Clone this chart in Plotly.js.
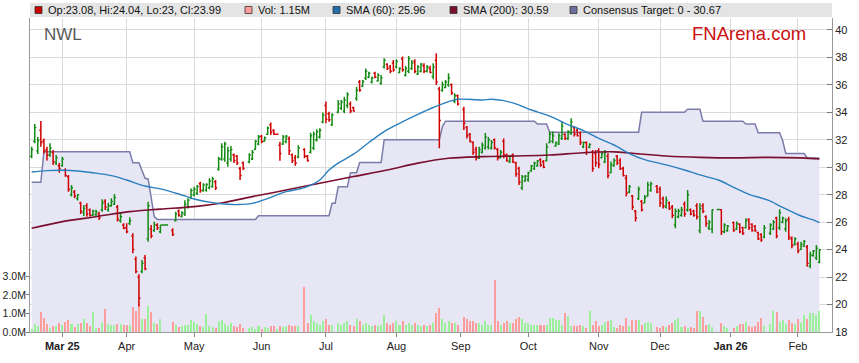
<!DOCTYPE html>
<html><head><meta charset="utf-8">
<script src="https://cdn.plot.ly/plotly-3.0.1.min.js"></script>
<style>html,body{margin:0;padding:0;background:#fff}#chart{width:859px;height:363px}</style>
</head><body><div id="chart"></div>
<script>
// ---- data: one value per weekday slot starting Mon 2025-02-17 ----
const startDate = '2025-02-17';
const openPx = [
30.8,31.9,31.2,32.7,31.9,31.3,30.9,31.1,30.3,30.1,
30.1,29.8,29.3,28.0,28.2,27.7,27.4,26.7,27.2,26.9,
26.5,26.55,26.6,26.9,27.5,26.9,27.2,27.3,27.1,26.1,
25.8,25.6,25.9,25.0,23.3,22.0,22.4,23.4,24.8,25.5,
25.4,25.8,25.3,25.8,25.8,null,25.4,26.1,26.8,26.4,
26.6,27.1,27.8,28.0,28.1,28.8,28.3,28.35,28.5,28.6,
28.95,29.85,30.6,30.6,30.3,30.6,30.9,30.8,29.9,30.3,
null,30.4,30.6,31.3,31.7,32.25,31.9,32.4,33.1,32.7,
32.4,31.6,31.7,31.85,32.1,30.9,30.7,30.75,null,31.3,
30.8,31.1,31.4,32.0,32.2,33.3,34.5,33.9,33.1,null,
34.0,34.3,34.1,34.5,34.6,34.35,35.0,36.2,35.9,36.5,
36.55,36.2,36.85,36.3,36.1,37.3,37.5,37.3,37.6,37.3,
36.9,37.9,36.7,37.0,37.2,37.7,36.8,37.0,37.4,37.0,
37.2,36.6,37.8,35.7,35.6,35.8,36.0,36.0,34.8,35.2,
null,34.2,32.9,32.4,31.8,31.3,30.7,31.1,31.4,31.5,
31.4,32.0,31.3,30.7,31.9,30.9,30.4,30.9,30.3,29.9,
28.5,29.0,29.1,29.75,29.9,30.1,30.55,30.4,30.5,31.8,
31.9,31.55,31.7,32.1,32.4,32.1,32.5,32.9,32.7,32.5,
31.5,31.8,31.45,31.1,31.0,31.2,30.7,30.4,30.8,29.6,
30.1,30.8,30.5,29.9,29.2,28.2,27.9,26.8,27.7,27.5,
27.4,27.9,28.3,null,28.6,28.4,27.7,27.1,27.4,27.1,
25.8,26.4,26.5,27.3,26.9,26.9,26.8,27.2,25.4,27.2,
26.4,25.6,25.5,null,26.93,26.9,25.3,25.4,null,25.95,
25.5,25.85,25.6,25.6,26.2,25.85,25.7,25.25,25.1,24.9,
null,25.2,25.5,26.3,25.6,26.0,25.5,26.2,24.8,24.4,
24.4,24.0,24.25,24.2,22.8,23.55,23.4,23.08];
const highPx = [
31.5,33.15,32.2,33.37,32.1,31.5,31.74,31.26,30.9,30.3,
30.77,29.92,29.44,28.7,28.34,28.05,27.49,27.25,27.37,27.0,
26.9,26.9,26.76,27.66,27.66,27.42,27.74,28.05,27.25,26.64,
25.92,25.92,26.35,25.19,23.5,22.2,23.24,23.6,27.49,25.8,
26.03,25.92,25.8,25.8,25.8,null,25.55,26.76,26.93,26.8,
27.6,27.74,28.46,28.58,28.7,28.95,28.83,28.83,29.2,29.3,
29.07,30.77,31.74,31.86,31.5,31.55,31.0,30.9,30.04,30.41,
null,31.02,31.26,31.99,32.35,32.35,32.23,32.96,33.25,32.76,
32.45,31.86,32.35,32.35,32.23,31.0,30.9,31.6,null,31.38,
30.9,32.52,32.6,32.76,32.84,33.98,34.78,34.05,33.93,null,
34.9,34.9,35.14,35.46,34.78,34.41,35.87,36.36,36.36,37.2,
36.96,36.6,36.96,36.84,36.72,37.93,37.57,37.45,37.81,37.86,
37.28,38.06,37.38,38.1,37.81,37.86,37.45,37.6,37.57,37.45,
37.4,37.57,38.3,35.87,36.24,36.36,36.84,36.1,35.38,35.3,
null,34.41,33.0,32.5,31.9,31.5,31.5,31.8,32.5,32.2,
31.99,32.1,31.4,31.26,32.1,31.0,30.9,31.0,30.4,30.04,
29.44,29.44,29.68,30.17,30.4,30.53,30.65,30.53,31.74,32.6,
32.6,31.87,32.47,33.32,32.47,32.7,33.56,32.96,32.84,32.6,
31.87,31.87,31.74,31.26,31.26,31.38,31.14,31.26,31.02,30.41,
30.65,30.9,30.65,30.04,29.44,28.71,27.98,26.89,28.59,27.62,
27.98,28.95,28.95,null,28.71,28.59,27.86,27.86,27.5,27.25,
27.0,26.98,27.13,27.5,28.34,27.0,26.9,27.37,27.37,27.37,
26.5,26.16,26.93,null,26.93,26.94,25.92,25.8,null,26.04,
26.04,25.92,25.67,26.28,26.28,25.92,25.8,25.31,25.19,25.8,
null,25.92,26.16,26.4,26.94,26.4,26.28,26.4,24.95,24.9,
24.58,24.58,24.7,24.33,23.85,23.97,24.33,24.04];
const lowPx = [
30.65,31.75,30.96,31.5,31.0,30.5,30.77,30.16,30.16,29.6,
30.04,29.31,28.22,27.86,27.74,27.57,26.6,26.45,26.4,26.4,
26.45,26.45,26.16,26.76,26.88,26.76,27.13,27.25,26.04,25.96,
25.48,25.19,25.8,23.73,22.27,19.85,22.27,22.5,24.58,24.82,
25.3,25.43,25.19,25.8,25.8,null,24.99,26.04,26.4,26.35,
26.45,27.0,27.66,27.86,27.98,28.15,28.22,28.22,28.4,28.5,
28.34,29.75,30.48,30.4,30.04,30.4,30.3,30.17,29.07,29.8,
null,30.29,30.53,31.26,31.6,31.75,31.87,32.35,32.35,32.35,
32.35,30.48,31.62,31.74,30.9,30.3,30.1,30.65,null,30.65,
30.4,31.0,31.26,31.87,32.1,33.2,33.2,33.32,33.0,null,
33.93,34.17,33.93,34.29,33.93,34.05,34.85,35.5,35.87,36.36,
36.48,36.1,36.48,36.23,36.0,37.2,37.08,36.84,36.96,37.2,
36.84,36.96,36.6,36.84,37.08,36.84,36.72,36.9,36.84,36.9,
36.84,36.4,35.99,31.38,35.5,35.75,35.87,35.26,34.66,34.5,
null,32.71,32.1,31.8,30.9,30.5,30.6,31.0,31.3,31.3,
31.3,31.3,30.5,30.65,30.65,30.4,30.3,30.3,29.3,28.7,
28.34,28.95,28.95,29.68,29.8,30.04,30.04,29.92,30.41,31.74,
31.74,31.5,31.62,31.99,31.99,31.99,32.35,32.23,32.23,31.62,
31.38,30.9,31.38,29.68,30.04,29.92,30.65,30.29,29.19,29.56,
30.04,30.17,29.8,29.32,27.86,28.1,26.89,26.04,27.62,26.77,
27.37,27.86,28.22,null,28.1,27.13,27.0,27.0,26.89,26.28,
25.55,26.28,26.4,26.4,26.76,26.5,26.4,26.2,25.19,26.64,
25.67,25.43,25.2,null,26.93,25.07,25.19,25.31,null,25.31,
25.43,25.19,25.07,25.55,25.43,25.31,25.31,24.7,24.58,24.82,
null,25.07,25.43,24.82,25.43,25.92,25.31,24.7,24.1,24.3,
23.73,23.97,24.21,22.76,22.64,23.49,23.24,23.0];
const closePx = [
31.3,32.9,31.95,31.8,31.2,30.9,31.4,30.4,30.7,29.9,
30.6,29.4,28.4,28.5,27.9,28.0,26.8,27.0,26.6,26.5,
26.8,26.75,26.3,27.4,27.1,27.2,27.5,27.8,26.2,26.4,
25.55,25.3,26.1,24.0,22.4,20.45,23.0,22.6,27.2,25.0,
25.8,25.6,25.8,25.8,25.8,null,25.1,26.6,26.5,26.7,
27.3,27.6,28.3,28.4,28.6,28.3,28.7,28.75,29.0,29.15,
28.5,30.6,31.5,31.7,31.2,31.3,30.5,30.3,29.4,29.9,
null,30.9,31.1,31.9,32.2,31.85,32.15,32.85,32.55,32.4,
32.4,31.0,32.2,32.25,31.2,30.5,30.3,31.4,null,30.8,
30.5,32.3,32.4,32.6,32.7,33.8,33.5,33.45,33.8,null,
34.6,34.75,34.9,35.3,34.1,34.1,35.6,35.6,36.25,37.0,
36.85,36.5,36.55,36.7,36.5,37.8,37.2,37.0,37.1,37.7,
37.2,37.1,37.2,37.9,37.6,37.0,37.3,37.5,37.0,37.3,
36.9,37.3,36.2,33.4,36.0,36.2,36.5,35.4,35.2,34.6,
null,33.2,32.3,31.9,31.1,30.7,31.3,31.6,32.2,32.0,
31.8,31.4,30.7,31.1,30.9,30.5,30.8,30.4,29.5,28.9,
29.3,29.35,29.6,30.1,30.3,30.45,30.15,30.0,31.5,32.4,
32.3,31.8,32.3,33.0,32.1,32.6,33.3,32.4,32.3,31.8,
31.8,31.1,31.65,29.9,30.3,30.2,31.0,31.1,29.4,30.2,
30.5,30.3,29.9,29.4,28.1,28.6,27.1,26.3,28.4,26.9,
27.8,28.7,28.8,null,28.2,27.4,27.2,27.6,27.0,26.5,
26.8,26.8,26.9,26.6,28.0,26.6,26.5,26.4,27.0,26.8,
25.9,26.0,26.9,null,26.93,25.3,25.8,25.7,null,25.4,
25.9,25.3,25.2,26.1,25.6,25.4,25.4,24.8,24.7,25.6,
null,25.8,26.0,25.0,26.7,26.3,26.1,24.9,24.3,24.8,
23.9,24.4,24.6,23.0,23.6,23.9,24.1,23.99];
// volume in millions of shares
const volumeM = [
0.18,0.42,0.33,1.09,0.76,0.42,0.22,0.31,0.31,0.49,
0.36,0.55,0.64,0.42,0.27,0.42,0.49,0.69,0.49,0.31,
1.09,0.24,0.2,0.49,1.24,0.42,0.36,0.36,0.42,0.42,
0.36,0.36,0.36,1.36,1.15,1.5,0.69,0.69,1.4,1.09,
0.51,0.45,0.69,0,0,null,0.55,0.36,0.27,0.3,
0.36,0.36,0.64,0.55,0.45,0.31,0.27,0.96,0.31,0.27,
0.22,0.58,0.67,0.45,0.33,0.49,0.31,0.27,0.42,0.22,
null,0.24,0.27,0.18,0.31,0.15,0.27,0.22,0.31,0.31,
0.18,0.31,0.27,0.33,0.36,0.31,0.31,0.31,null,2.4,
0.5,0.9,0.6,0.5,0.4,0.6,0.7,0.4,0.4,null,
0.5,0.4,0.5,0.6,0.4,0.3,0.7,0.6,0.4,0.5,
0.4,0.3,0.4,0.3,0.4,0.9,0.5,0.4,0.5,0.6,
0.4,0.6,0.4,0.5,0.4,0.5,0.4,0.3,0.4,0.3,
0.4,0.5,1.0,1.3,0.7,0.5,0.6,0.5,0.5,0.4,
null,0.8,0.7,0.6,0.6,0.5,0.5,0.4,0.6,0.4,
0.4,2.8,0.6,0.4,0.5,0.6,0.5,0.5,0.7,0.8,
0.7,0.5,0.5,0.4,0.4,0.4,0.4,0.36,0.36,0.73,
0.78,0.64,0.67,0.36,1.0,0.85,0.31,0.31,0.31,0.36,
0.31,0.24,1.13,0.36,0.58,0.33,0.36,0.55,0.58,0.64,
0.27,0.24,0.36,0.31,0.78,0.31,0.64,0.64,0.67,0.4,
0.49,0.55,0.49,null,0.27,0.22,0.31,0.27,0.36,0.49,
0.64,0.78,0.27,0.31,0.22,0.27,0.24,1.13,1.13,0.82,
0.36,0.42,0.27,null,0,0.49,0.31,0.24,null,0.2,
0.31,0.42,0.45,0.55,0.31,0.27,0.31,0.55,0.76,0.31,
null,0.45,1.13,1.09,0.55,0.64,0.45,0.64,0.49,0.45,
0.69,0.49,0.91,0.69,1.04,1.04,0.91,1.15];
// moving averages and consensus target, read at selected weekday slots
const sma60Slot = [0,5,10,15,20,26,31,37,42,48,53,59,64,67,72,78,83,89,94,97,100,105,110,115,120,126,131,136,139,147,150,154,158,163,169,174,180,185,190,195,200,207,213,218,224,229,234,240,245,251,255,257];
const sma60Val  = [29.65,29.75,29.78,29.73,29.6,29.39,29.07,28.63,28.42,28.05,27.69,27.42,27.3,27.28,27.37,27.81,28.22,28.51,29.07,29.8,30.3,30.95,31.8,32.6,33.2,33.85,34.35,34.78,34.95,34.9,34.95,34.85,34.61,34.17,33.73,33.2,32.67,32.11,31.62,31.0,30.55,30.17,29.8,29.44,29.07,28.54,28.03,27.62,27.08,26.45,26.16,25.96];
const sma200Slot = [0,10,21,32,42,53,62,72,83,94,105,116,126,136,147,158,169,180,190,196,207,218,229,240,251,257];
const sma200Val  = [25.55,26.04,26.4,26.77,26.95,27.13,27.4,27.86,28.34,28.83,29.32,29.8,30.3,30.65,30.77,30.82,30.89,31.06,31.12,31.02,30.82,30.72,30.68,30.72,30.68,30.6];
const targetSlot = [0,3,4,32,33,35,37,38,40,41,73,74,97,98,99,100,103,104,106,107,114,115,133,134,135,164,165,168,169,198,199,213,214,218,219,232,233,236,237,244,245,246,252,253,257];
const targetVal  = [28.9,28.9,31.13,31.13,30.33,30.33,29.19,29.15,26.4,26.2,26.2,26.47,26.47,27.37,27.37,28.58,28.58,29.6,29.6,30.34,30.34,32.0,32.0,32.96,33.35,33.35,33.15,33.15,32.55,32.55,34.0,34.0,34.22,34.22,33.35,33.35,33.15,33.15,32.52,32.52,31.95,31.0,31.0,30.67,30.67];
const monthNames = ['Jan','Feb','Mar','Apr','May','Jun','Jul','Aug','Sep','Oct','Nov','Dec'];
const legendItems = [
  {label:'Op:23.08, Hi:24.04, Lo:23, Cl:23.99', color:'#cc0000', px:35},
  {label:'Vol: 1.15M', color:'#ff9c9c', px:245},
  {label:'SMA (60): 25.96', color:'#1f6fae', px:333},
  {label:'SMA (200): 30.59', color:'#7a0f2e', px:450},
  {label:'Consensus Target: 0 - 30.67', color:'#6f6f9c', px:570}
];

// ---- build ----
const dates = [];
{
  const d = new Date(startDate + 'T00:00:00Z');
  while (dates.length < closePx.length) {
    const wd = d.getUTCDay();
    if (wd !== 0 && wd !== 6) dates.push(d.toISOString().slice(0, 10));
    d.setUTCDate(d.getUTCDate() + 1);
  }
}
const slots = dates.map((_, i) => i);
const tickvals = [], ticktext = [];
let lastMonth = dates[0].slice(0, 7);
dates.forEach((ds, i) => {
  const m = ds.slice(0, 7);
  if (m !== lastMonth) {
    lastMonth = m;
    const mi = +ds.slice(5, 7) - 1;
    let t = monthNames[mi];
    if (tickvals.length === 0 || mi === 0) t = '<b>' + t + ' ' + ds.slice(2, 4) + '</b>';
    tickvals.push(i); ticktext.push(t);
  }
});
const volColors = closePx.map((c, i) => (c !== null && c >= openPx[i]) ? '#9cf09c' : '#ff9c9c');

// plot area in pixels: x 30..832, y 18..332
const L = 30, R = 832, T = 18, B = 332;
const priceRange = [18, 18 + (B - T) / 13.73];

const traces = [
  {type:'scatter', mode:'lines', x:targetSlot, y:targetVal, fill:'tozeroy', fillcolor:'#e6e6f5',
   line:{color:'#7c7caa', width:1.5}, hoverinfo:'skip', xaxis:'x', yaxis:'y'},
  {type:'bar', x:slots, y:volumeM.map(v => v === null ? null : v * 1e6), width:0.66,
   marker:{color:volColors, line:{width:0}}, hoverinfo:'skip', xaxis:'x', yaxis:'y2'},
  {type:'ohlc', x:slots, open:openPx, high:highPx, low:lowPx, close:closePx, tickwidth:0.5,
   increasing:{line:{color:'#138a13', width:1.5}}, decreasing:{line:{color:'#d00000', width:1.5}},
   hoverinfo:'skip', xaxis:'x', yaxis:'y3'},
  {type:'scatter', mode:'lines', x:sma200Slot, y:sma200Val, line:{color:'#7a0f2e', width:1.6, shape:'spline'},
   hoverinfo:'skip', xaxis:'x', yaxis:'y3'},
  {type:'scatter', mode:'lines', x:sma60Slot, y:sma60Val, line:{color:'#2a7fbf', width:1.4, shape:'spline'},
   hoverinfo:'skip', xaxis:'x', yaxis:'y3'}
];

const px2x = p => (p - L) / (R - L);
const px2y = p => (B - p) / (B - T);
const shapes = [
  {type:'rect', xref:'paper', yref:'paper', x0:0, x1:1, y0:px2y(17), y1:px2y(3),
   fillcolor:'#e4e4e4', line:{width:0}, layer:'above'}
];
const annotations = [];
legendItems.forEach(it => {
  shapes.push({type:'rect', xref:'paper', yref:'paper', x0:px2x(it.px), x1:px2x(it.px + 7),
    y0:px2y(13.5), y1:px2y(6.5), fillcolor:it.color, line:{color:'#333', width:0.8}, layer:'above'});
  annotations.push({xref:'paper', yref:'paper', x:px2x(it.px + 11), y:px2y(10), xanchor:'left', yanchor:'middle',
    text:it.label, showarrow:false, font:{size:11, color:'#111'}});
});
annotations.push({xref:'paper', yref:'paper', x:px2x(42), y:px2y(34), xanchor:'left', yanchor:'middle',
  text:'NWL', showarrow:false, font:{size:17, color:'#5a5a5a'}});
annotations.push({xref:'paper', yref:'paper', x:px2x(808), y:px2y(33), xanchor:'right', yanchor:'middle',
  text:'FNArena.com', showarrow:false, font:{size:18.5, color:'#cc1111'}});

const layout = {
  width:859, height:363,
  margin:{l:L, r:859 - R, t:T, b:363 - B, pad:0},
  paper_bgcolor:'#ffffff', plot_bgcolor:'#ffffff',
  font:{family:'"Liberation Sans", Arial, sans-serif', size:11, color:'#222'},
  showlegend:false, dragmode:false, hovermode:false,
  xaxis:{range:[-0.54, 261.1], tickmode:'array', tickvals:tickvals, ticktext:ticktext,
    ticks:'outside', ticklen:4, tickcolor:'#888', showline:true, linecolor:'#999', linewidth:1,
    showgrid:true, gridcolor:'#dadada', gridwidth:1, zeroline:false, rangeslider:{visible:false},
    tickfont:{size:11, color:'#222'}, fixedrange:true},
  yaxis:{side:'right', range:priceRange, tickmode:'array',
    tickvals:[18,20,22,24,26,28,30,32,34,36,38,40], ticks:'inside', ticklen:5, tickcolor:'#777',
    showline:true, linecolor:'#999', linewidth:1, showgrid:true, gridcolor:'#dadada', gridwidth:1,
    zeroline:false, tickfont:{size:11, color:'#222'}, fixedrange:true},
  yaxis2:{overlaying:'y', side:'left', range:[0, (B - T) / 18.55 * 1e6], tickmode:'array',
    tickvals:[0,1e6,2e6,3e6], ticktext:['0.0M','1.0M','2.0M','3.0M'], ticks:'outside', ticklen:3,
    tickcolor:'#777', showline:true, linecolor:'#999', linewidth:1, showgrid:false, zeroline:false,
    tickfont:{size:10.5, color:'#222'}, ticklabelstandoff:-2, fixedrange:true},
  yaxis3:{overlaying:'y', range:priceRange, visible:false, showgrid:false, zeroline:false, fixedrange:true},
  shapes:shapes, annotations:annotations,
  bargap:0
};
Plotly.newPlot('chart', traces, layout, {staticPlot:true, displayModeBar:false});
</script>
</body></html>
